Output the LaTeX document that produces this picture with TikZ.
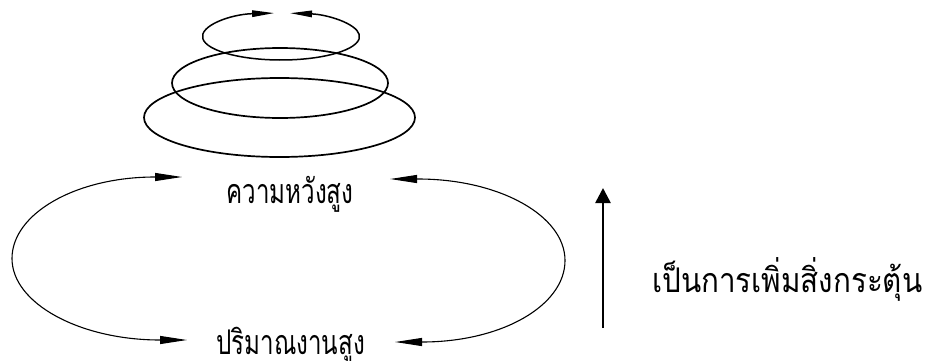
\documentclass[tikz,border=0pt]{standalone}
\usepackage{fontspec}
\newfontfamily\thaifont[Script=Thai, FakeStretch=0.71]{Loma}
\newfontfamily\thaiwide[Script=Thai, FakeStretch=0.87]{Loma}
\usetikzlibrary{arrows.meta}
\tikzset{
  lbl/.style={font=\thaifont\fontsize{34}{38}\selectfont, inner sep=0pt, anchor=base},
  lblwide/.style={font=\thaiwide\fontsize{34}{38}\selectfont, inner sep=0pt, anchor=base west},
  loopline/.style={line width=1.1pt, {Triangle[length=27pt,width=8pt]}-{Triangle[length=27pt,width=8pt]}},
  ring/.style={line width=1.7pt},
  toparr/.style={line width=1.5pt, {Triangle[length=22pt,width=6.5pt]}-{Triangle[length=22pt,width=6.5pt]}},
  uparr/.style={line width=2.6pt, -{Triangle[length=15pt,width=15pt]}}
}
\begin{document}
\begin{tikzpicture}[x=1pt,y=1pt]
\useasboundingbox (0,0) rectangle (925,360);
% text nodes
\node[lbl] (hope) at (290,157) {ความหวังสูง};
\node[lbl] (work) at (290.5,6) {ปริมาณงานสูง};
\node[lblwide] (stim) at (652,68) {เป็นการเพิ่มสิ่งกระตุ้น};
% loop end coordinates
\coordinate (L1) at (182,183);
\coordinate (L2) at (187,20);
\coordinate (R1) at (390,181);
\coordinate (R2) at (395,18);
% left loop
\draw[loopline] (L1) -- (155,183) .. controls (76,183) and (12,146.5) .. (12,101.5)
  .. controls (12,56.5) and (80,20) .. (160,20) -- (L2);
% right loop
\draw[loopline] (R1) -- (418,181) .. controls (499,181) and (565,144.5) .. (565,99.5)
  .. controls (565,54.5) and (502,18) .. (422,18) -- (R2);
% rings
\coordinate (c1) at (279.5,242.5);
\coordinate (c2) at (280,277);
\coordinate (c3) at (281,323.5);
\draw[ring] (c1) ellipse [x radius=135.5pt, y radius=39.5pt];
\draw[ring] (c2) ellipse [x radius=108pt, y radius=35pt];
\draw[toparr] ([shift={(95:78.5pt and 23.5pt)}]c3) arc[start angle=95, end angle=443.4, x radius=78.5pt, y radius=23.5pt];
% vertical arrow
\coordinate (A1) at (603,32);
\coordinate (A2) at (603,172);
\draw[uparr] (A1) -- (A2);
\end{tikzpicture}
\end{document}
